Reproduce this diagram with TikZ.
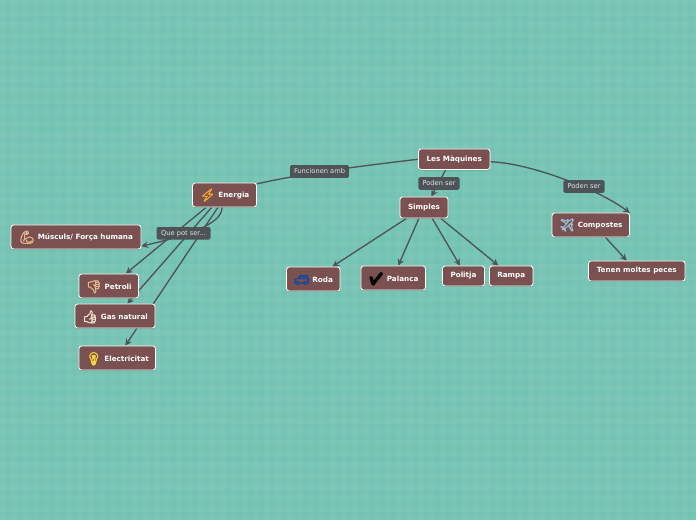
\documentclass[tikz,border=0pt]{standalone}
\usepackage{fontspec}
\setmainfont{DejaVu Sans}
\newfontfamily\emojifont[FakeBold=3]{Noto Emoji}
\usepackage{xcolor}
\usetikzlibrary{arrows.meta,backgrounds,shadows}
\definecolor{ground}{RGB}{113,194,178}
\definecolor{nodebrown}{RGB}{122,80,80}
\definecolor{linkgray}{RGB}{78,83,87}
\definecolor{tagtext}{RGB}{225,228,228}
\definecolor{skin}{RGB}{230,185,140}
\definecolor{bolt}{RGB}{245,175,40}
\definecolor{carblue}{RGB}{25,75,150}
\definecolor{planeblue}{RGB}{150,190,215}
\definecolor{palehand}{RGB}{245,225,210}
\definecolor{bulb}{RGB}{250,215,60}
\newcommand{\icon}[2]{\raisebox{-1.2pt}[5.5pt][0pt]{\textcolor{#1}{\fontsize{9.5pt}{10pt}\emojifont #2}}\hspace{2pt}}

\begin{document}
\begin{tikzpicture}[
  x=0.75pt, y=-0.75pt,
  mm/.style={fill=nodebrown, draw=white, line width=0.6pt, rounded corners=2pt, inner sep=0pt,
    minimum height=18pt, text=white, font=\fontsize{5.4pt}{6pt}\selectfont\bfseries,
    drop shadow={shadow xshift=0pt, shadow yshift=-0.7pt, opacity=0.3, fill=black}},
  tag/.style={fill=linkgray, rounded corners=1pt, inner sep=0pt, minimum height=9.4pt,
    text=tagtext, font=\fontsize{5pt}{6pt}\selectfont},
  lk/.style={draw=linkgray, line width=1pt},
  ar/.style={lk, -{Stealth[length=5pt,width=5pt]}},
]
  \useasboundingbox (0,0) rectangle (696,520);

  % Main boxes
  \node[mm, minimum width=53.6pt, minimum height=15.4pt] (maquines) at (454.25,159.25) {Les Màquines};
  \node[mm, minimum width=48pt] (energia) at (224.5,195) {\icon{bolt}{⚡}Energia};
  \node[mm, minimum width=36pt, minimum height=15.8pt] (simples) at (424,207.5) {Simples};
  \node[mm, minimum width=58pt] (compostes) at (590.75,225) {\icon{planeblue}{✈}Compostes};

  % Energy sources
  \node[mm, minimum width=97.5pt] (muscul) at (76,237) {\icon{skin}{💪}Músculs/ Força humana};
  \node[mm, minimum width=44.6pt] (petroli) at (108.75,286) {\icon{skin}{👎}Petroli};
  \node[mm, minimum width=60pt] (gas) at (115,316) {\icon{palehand}{👍}Gas natural};
  \node[mm, minimum width=57.4pt] (electric) at (117.25,358) {\icon{bulb}{💡}Electricitat};

  % Simple machines
  \node[mm, minimum width=40pt] (roda) at (313.25,279) {\icon{carblue}{🚙}Roda};
  \node[mm, minimum width=48.4pt] (palanca) at (393.25,278) {\icon{black}{✔}Palanca};
  \node[mm, minimum width=31.5pt, minimum height=15pt] (politja) at (463.5,276) {Politja};
  \node[mm, minimum width=32.6pt, minimum height=15pt] (rampa) at (511.25,276) {Rampa};
  \node[mm, minimum width=72.4pt, minimum height=15pt] (peces) at (636.75,271) {Tenen moltes peces};

  % Labels on the links
  \node[tag, minimum width=44.2pt] (funcionen) at (319.5,171.5) {Funcionen amb};
  \node[tag, minimum width=30.8pt] (podenA) at (439,183.5) {Poden ser};
  \node[tag, minimum width=30.8pt] (podenB) at (584,186.5) {Poden ser};
  \node[tag, minimum width=40.5pt] (quepot) at (183.5,233.3) {Que pot ser...};

  \begin{scope}[on background layer]
    % Ground: gingham of faint bands
    \fill[ground] (0,0) rectangle (696,520);
    \begin{scope}
      \clip (0,0) rectangle (696,520);
      \foreach \i in {0,...,63}{
        \fill[white, opacity=0.035] (\i*11,0) rectangle (\i*11+5.5,520);
      }
      \foreach \i in {0,...,47}{
        \fill[white, opacity=0.035] (0,\i*11) rectangle (696,\i*11+5.5);
      }
      \foreach \i in {0,...,10}{
        \fill[white, opacity=0.015] (\i*66,0) rectangle (\i*66+33,520);
      }
      \foreach \i in {0,...,7}{
        \fill[white, opacity=0.015] (0,\i*66) rectangle (696,\i*66+33);
      }
    \end{scope}

    % Links from the root
    \draw[lk] (maquines.west) .. controls (370,165) and (310,172) .. (energia.19);
    \draw[ar] (maquines.-129) -- (simples.56);
    \draw[ar] (maquines.-4) .. controls (530,163) and (600,190) .. (compostes.17);
    \draw[ar] (compostes.-40) -- (peces.134);

    % Simples
    \draw[ar] (simples.-148) -- (roda.33);
    \draw[ar] (simples.-115) -- (palanca.68);
    \draw[ar] (simples.-53) -- (politja.109);
    \draw[ar] (simples.-33) -- (rampa.141);

    % Energia
    \draw[ar] (energia.-101) .. controls (222,225) and (185,236) .. (muscul.-8);
    \draw[ar] (energia.-146) -- (petroli.36);
    \draw[ar] (energia.-136) -- (gas.45);
    \draw[ar] (energia.-118) -- (electric.57);
  \end{scope}
\end{tikzpicture}
\end{document}
